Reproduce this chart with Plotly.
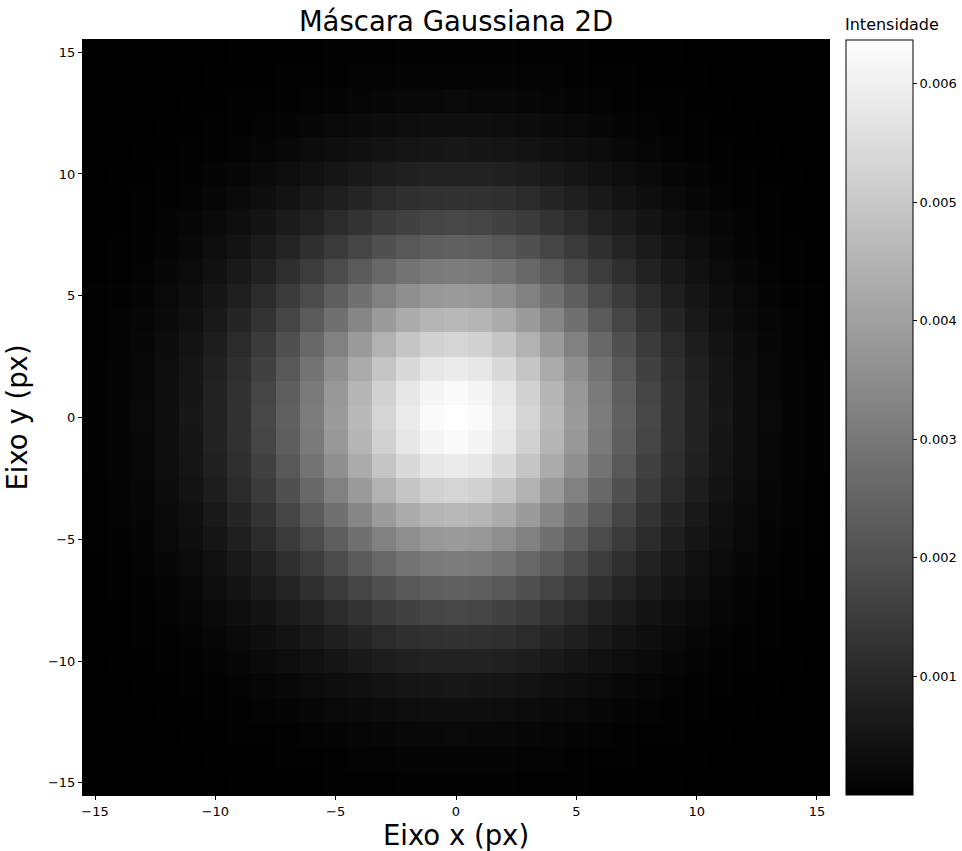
import numpy as np
import plotly.graph_objects as go

# Pixel offsets of the mask (px), from -15 to 15
offsets = list(range(-15, 16))

# 1D Gaussian weights for offsets 0..15 (sigma = 5 px); the mask is their outer product
half_weights = [0.07979, 0.07821, 0.07365, 0.06664, 0.05794, 0.04839, 0.03884, 0.02995,
                0.02218, 0.01579, 0.01080, 0.00709, 0.00448, 0.00272, 0.00158, 0.00089]
weights = half_weights[:0:-1] + half_weights

axis_ticks = [-15, -10, -5, 0, 5, 10, 15]
cbar_ticks = [0.001, 0.002, 0.003, 0.004, 0.005, 0.006]

mask = np.outer(weights, weights)

W, H = 962, 851
L, R, T, B = 83, 829, 40, 795
pw = R - L

tick_font = dict(family="DejaVu Sans", size=13, color="#000000")
big_font = dict(family="DejaVu Sans", size=27.5, color="#000000")

fig = go.Figure(go.Heatmap(
    x=offsets, y=offsets, z=mask,
    colorscale=[[0, "#000000"], [1, "#ffffff"]],
    zmin=float(mask.min()), zmax=float(mask.max()),
    colorbar=dict(
        thickness=67, thicknessmode="pixels",
        len=B - T, lenmode="pixels",
        x=(846 - L) / pw, xanchor="left", xpad=0,
        y=0.5, yanchor="middle", ypad=0,
        outlinewidth=1, outlinecolor="#000000",
        tickvals=cbar_ticks, ticktext=[f"{v:.3f}" for v in cbar_ticks],
        ticks="outside", ticklen=4, tickcolor="#000000",
        tickfont=tick_font,
    ),
    hovertemplate="x=%{x}<br>y=%{y}<br>%{z:.5f}<extra></extra>",
))

axis_common = dict(
    range=[-15.5, 15.5], tickvals=axis_ticks,
    ticks="outside", ticklen=4, tickcolor="#000000",
    showline=True, linecolor="#000000", linewidth=1, mirror=True,
    showgrid=False, zeroline=False,
    tickfont=tick_font,
)

fig.update_layout(
    width=W, height=H,
    margin=dict(l=L, r=W - R, t=T, b=H - B, autoexpand=False),
    paper_bgcolor="#ffffff", plot_bgcolor="#000000",
    font=dict(family="DejaVu Sans", color="#000000"),
    title=dict(text="Máscara Gaussiana 2D", x=(L + R) / 2 / W, xanchor="center",
               y=1 - 21 / H, yanchor="middle", font=big_font),
    xaxis=dict(**axis_common, title=dict(text="Eixo x (px)", standoff=9, font=big_font)),
    yaxis=dict(**axis_common, title=dict(text="Eixo y (px)", standoff=12, font=big_font)),
    annotations=[dict(text="Intensidade", xref="paper", yref="paper",
                      x=(892 - L) / pw, y=1 + 15 / (B - T), xanchor="center", yanchor="middle",
                      showarrow=False,
                      font=dict(family="DejaVu Sans", size=16, color="#000000"))],
)

fig.write_html("out.html")
